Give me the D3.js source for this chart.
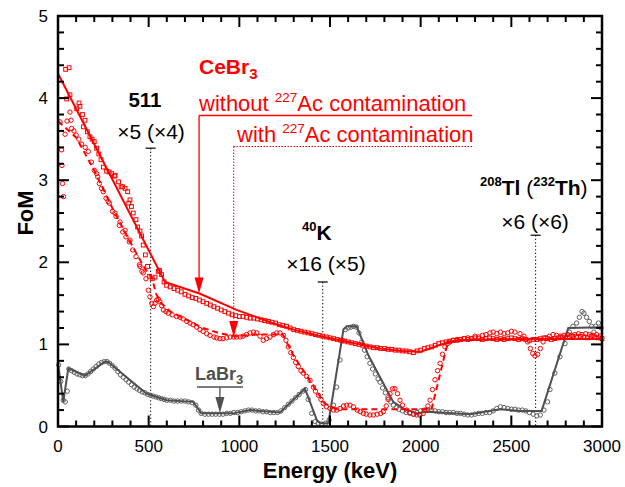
<!DOCTYPE html>
<html><head><meta charset="utf-8">
<script src="https://cdn.jsdelivr.net/npm/d3@7"></script>
<style>body{margin:0;background:#fff}svg{display:block;font-family:"Liberation Sans",Arial,sans-serif}</style>
</head><body>
<svg id="c" width="625" height="487"></svg>
<script>
// ---------- data ----------
const xTicks = [0,500,1000,1500,2000,2500,3000];
const yTicks = [0,1,2,3,4,5];

// CeBr3 without 227Ac : fitted line and data (squares)
const withoutLine = [[0,4.30],[590,1.76],[780,1.62],[985,1.42],[1170,1.27],[1300,1.18],[1450,1.10],[1600,1.03],[1776,0.95],[1900,0.92],[2000,0.91],[2100,0.99],[2200,1.05],[2400,1.06],[3000,1.07]];
const withoutPts = [[42,4.35],[61,4.37],[48,3.99],[66,4.04],[103,3.87],[116,3.94],[121,3.90],[135,3.80],[140,3.65],[149,3.73],[162,3.59],[176,3.53],[188,3.50],[200,3.47],[213,3.39],[225,3.32],[237,3.25],[250,3.16],[268,3.11],[282,3.10],[296,3.08],[311,3.05],[315,3.06],[334,2.98],[348,2.92],[356,2.92],[370,2.90],[384,2.86],[390,2.72],[397,2.76],[405,2.68],[415,2.60],[430,2.52],[439,2.43],[452,2.38],[461,2.32],[470,2.21],[482,2.09],[494,1.95],[505,1.83],[520,1.80],[535,1.82],[553,1.89],[560,1.90],[571,1.85],[585,1.76],[599,1.72],
[618,1.70],[640,1.68],[660,1.66],[680,1.64],[700,1.61],[720,1.59],[740,1.57],[760,1.56],[780,1.54],[800,1.52],[820,1.50],[840,1.48],[860,1.46],[880,1.44],[900,1.42],[920,1.40],[940,1.38],[960,1.36],[980,1.35],[1000,1.34],[1020,1.34],[1040,1.33],[1060,1.32],[1080,1.32],[1100,1.31],[1120,1.30],[1140,1.29],[1160,1.28],[1180,1.27],[1200,1.26],[1220,1.24],[1240,1.23],[1260,1.22],[1280,1.20],[1300,1.18],[1320,1.17],[1340,1.16],[1360,1.15],[1380,1.14],[1400,1.13],[1420,1.12],[1440,1.11],[1460,1.10],[1480,1.09],[1500,1.08],[1520,1.07],[1540,1.06],[1560,1.05],[1580,1.04],[1600,1.03],[1620,1.02],[1640,1.01],[1660,1.00],[1680,0.99],[1700,0.98],[1720,0.97],[1740,0.96],[1760,0.96],[1780,0.95],[1800,0.95],[1820,0.94],[1840,0.94],[1860,0.93],[1880,0.93],[1900,0.92],[1920,0.92],[1940,0.91],[1960,0.90],[1980,0.92],[2000,0.93],[2020,0.95],[2040,0.96],[2060,0.97],[2080,0.99],[2100,1.01],[2120,1.02],[2140,1.03],[2160,1.04],[2180,1.05],[2200,1.05],[2220,1.06],[2240,1.07],[2260,1.06],[2280,1.07],[2300,1.08],[2320,1.07],[2340,1.06],[2360,1.07],[2380,1.08],[2400,1.07],[2420,1.06],[2440,1.07],[2460,1.06],[2480,1.07],[2500,1.08],[2520,1.07],[2540,1.06],[2560,1.07],[2580,1.06],[2600,1.05],[2620,1.06],[2640,1.06],[2660,1.07],[2680,1.08],[2700,1.07],[2720,1.06],[2740,1.07],[2760,1.08],[2780,1.09],[2800,1.08],[2820,1.09],[2840,1.10],[2860,1.09],[2880,1.10],[2900,1.09],[2920,1.08],[2940,1.10],[2960,1.09],[2980,1.08],[3000,1.07]];

// CeBr3 with 227Ac : fitted (dashed) line and data (circles)
const withLine = [[0,3.72],[100,3.52],[200,3.12],[300,2.66],[400,2.24],[480,1.92],[520,1.80],[540,1.62],[570,1.50],[620,1.40],[700,1.31],[800,1.20],[900,1.13],[980,1.10],[1100,1.12],[1240,1.12],[1300,0.86],[1400,0.52],[1470,0.28],[1540,0.21],[2060,0.21],[2150,1.03],[2250,1.06],[3000,1.07]];
const withPts = [[11,3.71],[20,3.37],[22,3.18],[25,2.96],[30,2.80],[39,3.56],[50,3.72],[66,3.83],[72,3.73],[75,3.63],[88,3.60],[100,3.55],[115,3.50],[130,3.44],[150,3.40],[167,3.35],[184,3.22],[200,3.12],[213,3.08],[219,3.04],[228,2.96],[240,2.90],[250,2.86],[265,2.78],[277,2.74],[283,2.72],[301,2.62],[314,2.60],[320,2.56],[338,2.45],[342,2.49],[357,2.37],[370,2.39],[375,2.31],[393,2.25],[397,2.27],[412,2.15],[430,2.07],[449,1.97],[452,1.95],[463,1.89],[470,1.87],[485,1.80],[498,1.66],[507,1.58],[517,1.50],[526,1.46],[535,1.50],[544,1.54],[553,1.55],[562,1.52],[572,1.47],[581,1.42],[595,1.40],[608,1.38],[630,1.36],[654,1.34],[673,1.33],[690,1.31],[710,1.28],[728,1.26],[745,1.24],[765,1.21],[783,1.18],[800,1.16],[820,1.13],[838,1.11],[860,1.09],[875,1.08],[893,1.07],[910,1.07],[930,1.08],[949,1.09],[970,1.09],[985,1.09],[1004,1.09],[1020,1.10],[1040,1.12],[1059,1.14],[1078,1.15],[1096,1.14],[1114,1.10],[1132,1.05],[1150,1.07],[1169,1.09],[1188,1.12],[1206,1.14],[1224,1.14],[1243,1.11],[1257,1.05],[1270,0.97],[1284,0.90],[1298,0.84],[1311,0.78],[1325,0.73],[1340,0.68],[1353,0.65],[1371,0.61],[1390,0.56],[1408,0.48],[1420,0.43],[1436,0.38],[1450,0.33],[1463,0.28],[1480,0.24],[1500,0.22],[1520,0.20],[1537,0.20],[1555,0.22],[1575,0.25],[1592,0.26],[1610,0.26],[1629,0.24],[1650,0.20],[1667,0.18],[1684,0.16],[1700,0.15],[1720,0.14],[1739,0.14],[1760,0.15],[1780,0.16],[1794,0.18],[1810,0.25],[1820,0.33],[1831,0.40],[1845,0.46],[1858,0.46],[1872,0.40],[1886,0.32],[1900,0.26],[1923,0.20],[1940,0.17],[1960,0.15],[1978,0.14],[1995,0.14],[2014,0.16],[2030,0.20],[2040,0.25],[2052,0.32],[2065,0.45],[2079,0.57],[2093,0.68],[2107,0.77],[2120,0.88],[2134,0.97],[2148,1.01],[2162,1.03],[2180,1.05],[2200,1.06],[2217,1.06],[2240,1.07],[2260,1.08],[2280,1.07],[2300,1.10],[2320,1.09],[2340,1.11],[2360,1.12],[2382,1.14],[2400,1.15],[2420,1.13],[2440,1.15],[2460,1.13],[2480,1.14],[2500,1.16],[2520,1.15],[2548,1.13],[2570,1.10],[2590,1.03],[2605,0.95],[2618,0.89],[2630,0.86],[2645,0.88],[2660,0.95],[2675,1.03],[2690,1.08],[2710,1.10],[2730,1.12],[2750,1.11],[2770,1.10],[2790,1.11],[2810,1.12],[2830,1.11],[2850,1.12],[2870,1.13],[2890,1.12],[2910,1.13],[2930,1.12],[2950,1.11],[2970,1.12],[2990,1.10]];

// LaBr3 : fitted line and data (circles)
const labrLine = [[0,0.77],[29,0.30],[57,0.71],[149,0.62],[259,0.79],[275,0.79],[489,0.40],[599,0.32],[746,0.30],[790,0.16],[967,0.16],[1059,0.20],[1224,0.17],[1362,0.46],[1427,0.08],[1445,0.04],[1491,0.04],[1574,1.18],[1592,1.22],[1647,1.22],[1711,0.87],[1776,0.60],[1849,0.30],[1904,0.22],[1978,0.16],[2033,0.18],[2272,0.15],[2437,0.21],[2548,0.19],[2667,0.19],[2814,1.20],[3000,1.21]];
const labrPts = [[4,0.75],[15,0.55],[29,0.32],[40,0.30],[51,0.43],[60,0.70],[75,0.68],[90,0.66],[105,0.64],[120,0.63],[135,0.62],[150,0.62],[165,0.64],[180,0.67],[195,0.70],[210,0.73],[225,0.76],[240,0.78],[255,0.79],[270,0.79],[285,0.77],[300,0.74],[315,0.71],[330,0.67],[345,0.63],[360,0.60],[375,0.57],[390,0.54],[405,0.51],[420,0.48],[435,0.46],[450,0.44],[465,0.42],[480,0.41],[495,0.39],[510,0.38],[525,0.37],[540,0.36],[555,0.35],[570,0.34],[585,0.33],[600,0.32],[620,0.32],[640,0.31],[660,0.31],[680,0.31],[700,0.31],[720,0.30],[740,0.29],[760,0.26],[775,0.20],[790,0.16],[810,0.15],[830,0.15],[850,0.15],[870,0.15],[890,0.15],[910,0.15],[930,0.16],[950,0.16],[970,0.17],[990,0.17],[1010,0.18],[1030,0.19],[1050,0.20],[1070,0.20],[1090,0.19],[1110,0.19],[1130,0.18],[1150,0.18],[1170,0.17],[1190,0.17],[1210,0.17],[1230,0.19],[1250,0.23],[1270,0.27],[1290,0.31],[1310,0.35],[1330,0.39],[1350,0.43],[1365,0.45],[1380,0.33],[1399,0.16],[1418,0.06],[1435,0.04],[1455,0.03],[1475,0.04],[1495,0.08],[1519,0.26],[1537,0.48],[1555,0.81],[1570,1.05],[1585,1.18],[1600,1.20],[1615,1.21],[1630,1.22],[1645,1.21],[1660,1.14],[1675,1.03],[1690,0.93],[1705,0.85],[1720,0.77],[1735,0.70],[1750,0.64],[1765,0.58],[1776,0.54],[1790,0.47],[1805,0.41],[1820,0.35],[1835,0.30],[1850,0.26],[1865,0.23],[1880,0.21],[1900,0.19],[1920,0.17],[1940,0.16],[1960,0.15],[1980,0.17],[2000,0.19],[2020,0.20],[2040,0.20],[2060,0.20],[2080,0.19],[2100,0.18],[2120,0.18],[2140,0.17],[2160,0.17],[2180,0.17],[2200,0.16],[2220,0.16],[2240,0.15],[2260,0.14],[2280,0.14],[2300,0.15],[2320,0.16],[2340,0.16],[2360,0.17],[2380,0.17],[2400,0.19],[2420,0.22],[2440,0.24],[2460,0.23],[2480,0.22],[2500,0.21],[2520,0.21],[2540,0.20],[2560,0.20],[2580,0.19],[2600,0.17],[2620,0.15],[2640,0.13],[2660,0.14],[2680,0.20],[2700,0.30],[2713,0.45],[2740,0.65],[2768,0.85],[2796,1.01],[2820,1.15],[2840,1.22],[2860,1.26],[2875,1.33],[2890,1.40],[2900,1.38],[2915,1.33],[2930,1.28],[2943,1.22],[2955,1.15],[2965,1.22],[2980,1.26],[2995,1.20]];

// peak markers: energy, top FoM
const peakE = [511, 1460, 2634];
const peakTop = [3.39, 1.76, 2.33];

// ---------- drawing ----------
const svg = d3.select("#c");
const x = d3.scaleLinear().domain([0,3000]).range([58,602]);
const y = d3.scaleLinear().domain([0,5]).range([426.5,16]);
const RED = "#ff0000", GRAY = "#505050";

const line = d3.line().x(d=>x(d[0])).y(d=>y(d[1]));

// peak dotted markers
peakE.forEach((e,i)=>{
  svg.append("line").attr("x1",x(e)).attr("x2",x(e)).attr("y1",y(peakTop[i])).attr("y2",y(0))
    .attr("stroke","#000").attr("stroke-width",1).attr("stroke-dasharray","1.3,2.2");
  svg.append("line").attr("x1",x(e)-5).attr("x2",x(e)+5).attr("y1",y(peakTop[i])).attr("y2",y(peakTop[i]))
    .attr("stroke","#000").attr("stroke-width",1.2);
});

// LaBr3 markers & line
svg.append("g").selectAll("circle").data(labrPts).join("circle")
  .attr("cx",d=>x(d[0])).attr("cy",d=>y(d[1])).attr("r",2.2)
  .attr("fill","none").attr("stroke","#606060").attr("stroke-width",1);
svg.append("path").datum(labrLine).attr("d",line).attr("fill","none").attr("stroke",GRAY).attr("stroke-width",2);

// CeBr3 with : circles
svg.append("g").selectAll("circle").data(withPts).join("circle")
  .attr("cx",d=>x(d[0])).attr("cy",d=>y(d[1])).attr("r",2.2)
  .attr("fill","none").attr("stroke",RED).attr("stroke-width",1);
// CeBr3 without : squares
svg.append("g").selectAll("rect").data(withoutPts).join("rect")
  .attr("x",d=>x(d[0])-1.9).attr("y",d=>y(d[1])-1.9).attr("width",3.8).attr("height",3.8)
  .attr("fill","none").attr("stroke",RED).attr("stroke-width",1);

svg.append("path").datum(withLine).attr("d",line).attr("fill","none").attr("stroke",RED).attr("stroke-width",2).attr("stroke-dasharray","6,4");
svg.append("path").datum(withoutLine).attr("d",line).attr("fill","none").attr("stroke",RED).attr("stroke-width",2);

// ---------- frame & ticks ----------
const L=58,R=602,T=16,B=426.5;
svg.append("rect").attr("x",L).attr("y",T).attr("width",R-L).attr("height",B-T)
  .attr("fill","none").attr("stroke","#000").attr("stroke-width",2.5);
const tk = svg.append("g").attr("stroke","#000").attr("stroke-width",2);
d3.range(0,3001,100).forEach(v=>{
  const len = v%500===0 ? 11 : 6;
  tk.append("line").attr("x1",x(v)).attr("x2",x(v)).attr("y1",B).attr("y2",B-len);
  tk.append("line").attr("x1",x(v)).attr("x2",x(v)).attr("y1",T).attr("y2",T+len);
});
d3.range(0,5.001,0.2).forEach(v=>{
  const major = Math.abs(v-Math.round(v))<1e-6;
  const len = major ? 11 : 6;
  tk.append("line").attr("x1",L).attr("x2",L+len).attr("y1",y(v)).attr("y2",y(v));
  tk.append("line").attr("x1",R).attr("x2",R-len).attr("y1",y(v)).attr("y2",y(v));
});
svg.append("g").selectAll("text").data(xTicks).join("text")
  .attr("x",d=>x(d)).attr("y",452).attr("text-anchor","middle").attr("font-size",17).text(d=>d);
svg.append("g").selectAll("text").data(yTicks).join("text")
  .attr("x",48).attr("y",d=>y(d)+6).attr("text-anchor","end").attr("font-size",17).text(d=>d);

svg.append("text").attr("x",330).attr("y",478).attr("text-anchor","middle").attr("font-size",22).attr("font-weight","bold").text("Energy (keV)");
svg.append("text").attr("transform","translate(33,213) rotate(-90)").attr("text-anchor","middle").attr("font-size",22).attr("font-weight","bold").text("FoM");

// ---------- annotations ----------
function txt(xp,yp,size,color,weight){
  return svg.append("text").attr("x",xp).attr("y",yp).attr("font-size",size).attr("fill",color).attr("font-weight",weight||"normal");
}
let t = txt(199,74,21,RED,"bold"); t.append("tspan").text("CeBr"); t.append("tspan").attr("font-size",15).attr("dy",5).text("3");
t = txt(199,111,22,RED); t.append("tspan").text("without "); t.append("tspan").attr("font-size",13.5).attr("dy",-9).text("227");
t.append("tspan").attr("dy",9).text("Ac contamination");
t = txt(237,142,22,RED); t.append("tspan").text("with "); t.append("tspan").attr("font-size",13.5).attr("dy",-9).text("227");
t.append("tspan").attr("dy",9).text("Ac contamination");

// legend leader lines with arrows
function arrow(xp, yTop, yTip, color, dash){
  svg.append("line").attr("x1",xp).attr("x2",xp).attr("y1",yTop).attr("y2",yTip-12)
    .attr("stroke",color).attr("stroke-width",dash?1:1.3).attr("stroke-dasharray",dash?"1.5,1.5":null);
  svg.append("path").attr("d",`M${xp-4.5},${yTip-16}L${xp+4.5},${yTip-16}L${xp},${yTip}Z`).attr("fill",color);
}
svg.append("line").attr("x1",199).attr("x2",472).attr("y1",115.5).attr("y2",115.5).attr("stroke",RED).attr("stroke-width",1.3);
arrow(x(778), 115.5, y(1.62), RED, false);
svg.append("line").attr("x1",233.5).attr("x2",473).attr("y1",146.5).attr("y2",146.5).attr("stroke",RED).attr("stroke-width",1).attr("stroke-dasharray","1.5,1.5");
arrow(x(969), 146.5, y(1.09), RED, true);

t = txt(195,380,18,GRAY,"bold"); t.append("tspan").text("LaBr"); t.append("tspan").attr("font-size",13).attr("dy",4).text("3");
svg.append("line").attr("x1",197).attr("x2",243).attr("y1",387).attr("y2",387).attr("stroke",GRAY).attr("stroke-width",1.3);
arrow(x(893), 387, y(0.165), GRAY, false);

// peak labels
txt(145,107,20.5,"#000","bold").attr("text-anchor","middle").text("511");
txt(151,139,21,"#000").attr("text-anchor","middle").text("×5 (×4)");
t = txt(302,240,21,"#000","bold"); t.append("tspan").attr("font-size",13).attr("dy",-9).text("40"); t.append("tspan").attr("dy",9).text("K");
txt(326,271,21,"#000").attr("text-anchor","middle").text("×16 (×5)");
t = txt(480,195,21,"#000","bold");
t.append("tspan").attr("font-size",13).attr("dy",-9).text("208"); t.append("tspan").attr("dy",9).text("Tl");
t.append("tspan").attr("font-weight","normal").text(" ("); t.append("tspan").attr("font-size",13).attr("dy",-9).text("232");
t.append("tspan").attr("dy",9).text("Th"); t.append("tspan").attr("font-weight","normal").text(")");
txt(535,229,21,"#000").attr("text-anchor","middle").text("×6 (×6)");
</script>
</body></html>
